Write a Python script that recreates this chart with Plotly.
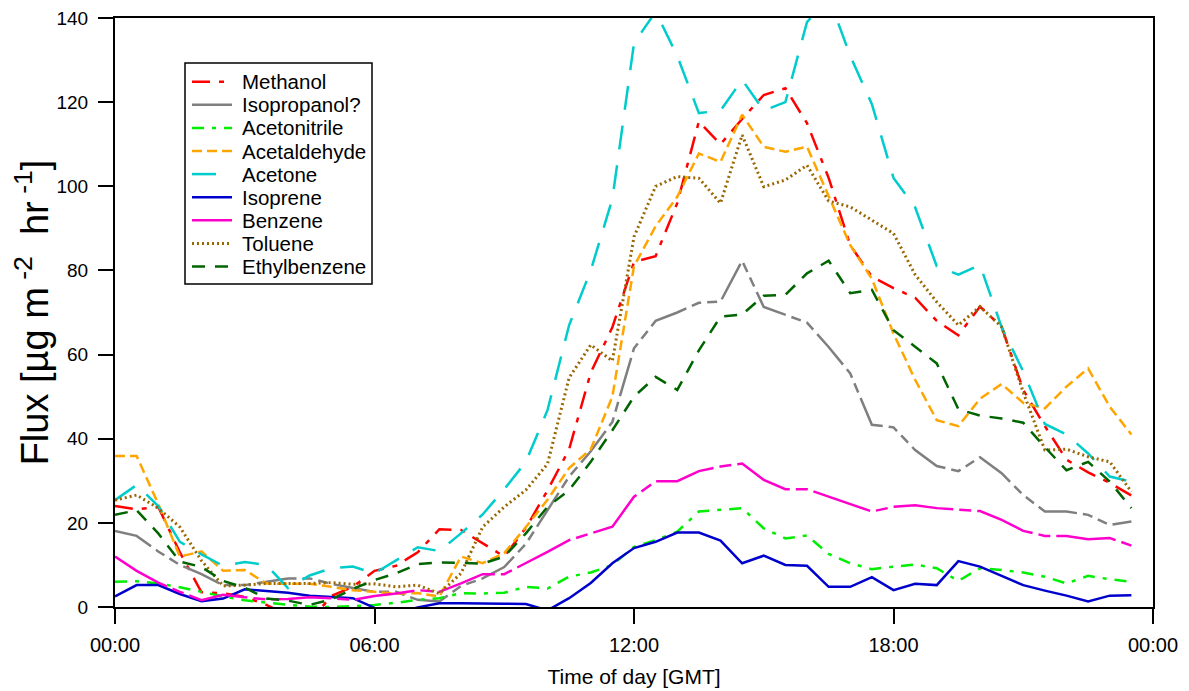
import plotly.graph_objects as go

# time of day in hours (half-hourly bins)
hours = [i * 0.5 for i in range(48)]

methanol = [24.0, 23.2, 23.8, 13.0, 3.5, 3.3, 2.4, 0.5, -2.0, -3.5, 2.6, 4.8,
            8.6, 9.8, 13.0, 18.5, 18.3, 15.2, 12.0, 18.8, 27.7, 37.5, 55.7, 66.5,
            82.0, 83.4, 96.0, 115.4, 110.0, 116.0, 121.7, 123.3, 115.0, 102.0, 86.0, 78.5,
            75.8, 73.5, 68.0, 64.6, 71.4, 66.6, 51.6, 43.0, 35.0, 32.0, 29.5, 26.5]

isopropanol = [18.1, 16.9, 13.2, 10.0, 7.8, 5.2, 5.2, 6.0, 6.8, 6.8, 5.5, 4.5,
               3.6, 3.6, 1.7, 1.3, 5.0, 6.8, 9.5, 15.0, 23.0, 31.0, 37.0, 44.0,
               61.5, 68.0, 70.0, 72.3, 72.6, 82.3, 71.3, 69.4, 67.6, 61.8, 55.5, 43.3,
               42.7, 37.3, 33.5, 32.3, 35.6, 31.8, 26.6, 22.7, 22.7, 21.9, 19.5, 20.3]

acetonitrile = [6.0, 6.1, 5.6, 4.7, 3.6, 2.5, 1.6, 1.0, 0.5, 0.1, 0.0, 0.2,
                0.5, 1.0, 1.7, 2.1, 3.3, 3.2, 3.4, 4.8, 4.4, 7.2, 8.2, 10.0,
                14.3, 15.9, 17.9, 22.7, 23.1, 23.5, 18.7, 16.3, 17.0, 12.6, 10.4, 9.0,
                9.6, 10.1, 9.2, 6.2, 9.2, 8.8, 8.2, 7.2, 5.6, 7.4, 6.6, 6.0]

acetaldehyde = [35.9, 35.9, 24.5, 12.0, 13.2, 8.6, 8.8, 5.6, 5.5, 5.5, 4.8, 4.0,
                3.6, 3.2, 3.3, 2.5, 12.0, 10.4, 12.8, 19.0, 25.5, 33.0, 37.5, 50.0,
                81.0, 90.5, 97.5, 107.8, 105.8, 117.0, 109.4, 108.2, 109.4, 97.5, 86.0, 78.0,
                65.0, 54.0, 44.4, 43.0, 49.5, 53.0, 48.5, 47.2, 52.4, 56.7, 47.6, 41.0]

acetone = [25.4, 29.0, 24.0, 15.5, 12.5, 9.8, 10.7, 10.0, 4.5, 7.5, 9.2, 9.6,
           8.0, 11.0, 14.2, 13.3, 17.5, 22.0, 28.0, 34.5, 46.8, 67.0, 80.0, 97.0,
           134.0, 141.5, 131.0, 117.4, 118.0, 125.3, 118.0, 120.0, 139.0, 145.0, 131.0, 119.5,
           102.0, 95.0, 81.0, 79.0, 81.3, 66.5, 56.0, 43.5, 41.0, 36.5, 31.0, 29.8]

isoprene = [2.5, 5.2, 5.2, 3.1, 1.4, 2.0, 4.2, 3.8, 3.4, 2.7, 2.4, 2.1,
            -0.2, -1.5, -0.1, 0.9, 0.9, 0.9, 0.8, 0.7, -0.8, 2.1, 5.7, 10.4,
            14.0, 15.5, 17.7, 17.7, 15.8, 10.4, 12.2, 10.0, 9.8, 4.8, 4.8, 7.1,
            4.0, 5.5, 5.2, 10.9, 9.6, 7.4, 5.2, 3.9, 2.7, 1.3, 2.7, 2.8]

benzene = [12.0, 8.6, 5.8, 3.6, 1.6, 2.9, 2.3, 1.8, 1.9, 2.3, 2.1, 1.7,
           2.6, 3.2, 4.0, 3.6, 5.6, 7.8, 7.8, 10.4, 13.1, 15.9, 17.5, 19.1,
           26.2, 29.9, 29.9, 32.3, 33.4, 34.1, 30.2, 28.0, 28.0, 26.2, 24.5, 22.7,
           23.8, 24.2, 23.5, 23.1, 22.8, 20.7, 18.1, 16.9, 16.9, 16.1, 16.4, 14.6]

toluene = [25.4, 26.6, 23.5, 19.0, 11.0, 5.0, 5.2, 5.6, 5.6, 5.6, 5.8, 5.4,
           5.5, 4.8, 5.2, 3.2, 8.0, 19.0, 23.8, 27.8, 34.0, 54.5, 62.3, 58.5,
           88.0, 100.0, 102.3, 101.9, 96.0, 112.2, 99.9, 101.5, 105.0, 96.5, 95.1, 92.0,
           88.8, 79.0, 72.5, 67.0, 71.4, 66.6, 51.0, 37.3, 37.5, 35.7, 34.5, 27.4]

ethylbenzene = [21.9, 23.0, 17.5, 10.8, 9.5, 6.2, 4.6, 2.0, 1.5, 0.5, 1.8, 4.3,
                6.4, 8.0, 10.2, 10.6, 10.5, 10.3, 12.0, 17.5, 23.8, 27.8, 34.5, 42.0,
                50.0, 54.7, 51.6, 61.0, 69.0, 69.5, 74.0, 74.2, 79.3, 82.3, 74.6, 75.4,
                65.8, 61.9, 57.9, 47.0, 45.5, 44.8, 43.8, 38.0, 32.5, 34.5, 29.8, 23.5]

x_tick_vals = [0, 6, 12, 18, 24]
x_tick_text = ["00:00", "06:00", "12:00", "18:00", "00:00"]
y_tick_vals = [0, 20, 40, 60, 80, 100, 120, 140]

series = [
    ("Methanol", methanol, "#FF0000", "18px,9px,5px,9px", 2.5),
    ("Isopropanol?", isopropanol, "#7F7F7F", "40px,6px,10px,6px,10px,6px", 2.5),
    ("Acetonitrile", acetonitrile, "#00EE00", "12px,8px,4px,8px", 2.5),
    ("Acetaldehyde", acetaldehyde, "#FFA500", "10px,5px", 2.5),
    ("Acetone", acetone, "#00CCCC", "24px,16px", 2.5),
    ("Isoprene", isoprene, "#0000CC", "solid", 2.5),
    ("Benzene", benzene, "#FF00CC", "60px,6px,12px,6px", 2.5),
    ("Toluene", toluene, "#996600", "2px,3px", 3),
    ("Ethylbenzene", ethylbenzene, "#006400", "13px,10px", 2.5),
]

font_family = "Liberation Sans, Arial, sans-serif"

fig = go.Figure()
for name, vals, color, dash, w in series:
    fig.add_trace(go.Scatter(
        x=hours, y=vals, name=name, mode="lines",
        line=dict(color=color, width=w, dash=dash),
        showlegend=False,
    ))

# --- legend box drawn in paper coordinates (plot area is 1038 x 589 px) ---
PW, PH = 1038.0, 589.0
def px_x(dx):  # pixels from left edge of plot area -> paper
    return dx / PW
def px_y(dy):  # pixels from top edge of plot area -> paper
    return 1 - dy / PH

box_l, box_r, box_t, box_b = 70, 257, 45, 266
row0, row_step = 63.7, 23.1
line_l, line_r, text_l = 77, 117, 125

shapes = [dict(type="rect", xref="paper", yref="paper",
               x0=px_x(box_l), x1=px_x(box_r), y0=px_y(box_b), y1=px_y(box_t),
               line=dict(color="black", width=1.5), fillcolor="white", layer="above")]
annotations = []
for i, (name, vals, color, dash, w) in enumerate(series):
    yy = px_y(row0 + i * row_step)
    shapes.append(dict(type="line", xref="paper", yref="paper",
                       x0=px_x(line_l), x1=px_x(line_r), y0=yy, y1=yy,
                       line=dict(color=color, width=w, dash=dash), layer="above"))
    annotations.append(dict(xref="paper", yref="paper", x=px_x(text_l), y=yy,
                            text=name, showarrow=False, xanchor="left", yanchor="middle",
                            font=dict(size=20.5, family=font_family, color="black")))

fig.update_layout(
    width=1189, height=691,
    margin=dict(l=107, r=44, t=10, b=92, autoexpand=False),
    paper_bgcolor="white", plot_bgcolor="white",
    font=dict(family=font_family, color="black"),
    showlegend=False,
    shapes=shapes,
    annotations=annotations,
    xaxis=dict(
        range=[0, 24], tickmode="array", tickvals=x_tick_vals, ticktext=x_tick_text,
        showgrid=False, zeroline=False, showline=True, mirror=True, automargin=False,
        linecolor="black", linewidth=2, ticks="outside", ticklen=15, tickwidth=2,
        tickcolor="black", tickfont=dict(size=20), ticklabelstandoff=4,
        ticklabeloverflow="allow",
        title=dict(text="Time of day [GMT]", font=dict(size=21), standoff=14),
    ),
    yaxis=dict(
        range=[0, 140], tickmode="array", tickvals=y_tick_vals,
        showgrid=False, zeroline=False, showline=True, mirror=True, automargin=False,
        linecolor="black", linewidth=2, ticks="outside", ticklen=15, tickwidth=2,
        tickcolor="black", tickfont=dict(size=19), ticklabelstandoff=6,
        ticklabeloverflow="allow",
        title=dict(text="Flux [µg m<sup> -2</sup>  hr<sup> -1</sup>]", font=dict(size=38), standoff=8),
    ),
)

fig.write_html("out.html")
